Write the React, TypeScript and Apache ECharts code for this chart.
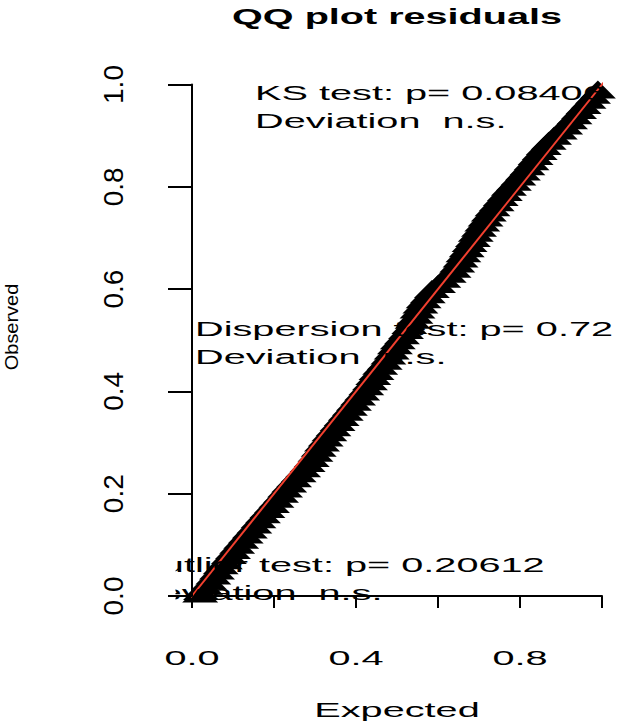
import React, { useEffect, useRef } from 'react';
import * as echarts from 'echarts';

// Expected (uniform quantiles) vs observed scaled residuals
const expected = [
  0.020, 0.022, 0.032, 0.042, 0.052, 0.061, 0.070, 0.080, 0.090, 0.100,
  0.110, 0.120, 0.131, 0.141, 0.152, 0.162, 0.173, 0.184, 0.195, 0.206,
  0.217, 0.227, 0.237, 0.249, 0.260, 0.271, 0.282, 0.292, 0.301, 0.309,
  0.317, 0.326, 0.335, 0.345, 0.355, 0.365, 0.375, 0.385, 0.395, 0.405,
  0.415, 0.425, 0.434, 0.442, 0.450, 0.459, 0.470, 0.479, 0.487, 0.495,
  0.502, 0.512, 0.522, 0.530, 0.538, 0.545, 0.550, 0.557, 0.565, 0.575,
  0.585, 0.600, 0.613, 0.626, 0.638, 0.647, 0.655, 0.662, 0.670, 0.677,
  0.685, 0.692, 0.700, 0.708, 0.716, 0.724, 0.733, 0.743, 0.753, 0.763,
  0.773, 0.785, 0.796, 0.807, 0.818, 0.828, 0.838, 0.848, 0.858, 0.870,
  0.883, 0.897, 0.910, 0.922, 0.933, 0.944, 0.955, 0.967, 0.978, 0.990,
];
const observed = [
  0.005, 0.01, 0.02, 0.03, 0.04, 0.05, 0.06, 0.07, 0.08, 0.09,
  0.10, 0.11, 0.12, 0.13, 0.14, 0.15, 0.16, 0.17, 0.18, 0.19,
  0.20, 0.21, 0.22, 0.23, 0.24, 0.25, 0.26, 0.27, 0.28, 0.29,
  0.30, 0.31, 0.32, 0.33, 0.34, 0.35, 0.36, 0.37, 0.38, 0.39,
  0.40, 0.41, 0.42, 0.43, 0.44, 0.45, 0.46, 0.47, 0.48, 0.49,
  0.50, 0.51, 0.52, 0.53, 0.54, 0.55, 0.56, 0.57, 0.58, 0.59,
  0.60, 0.61, 0.62, 0.63, 0.64, 0.65, 0.66, 0.67, 0.68, 0.69,
  0.70, 0.71, 0.72, 0.73, 0.74, 0.75, 0.76, 0.77, 0.78, 0.79,
  0.80, 0.81, 0.82, 0.83, 0.84, 0.85, 0.86, 0.87, 0.88, 0.89,
  0.90, 0.91, 0.92, 0.93, 0.94, 0.95, 0.96, 0.97, 0.98, 0.99,
];
const refLineEnds = [-0.04, 1.04];
const xTickLabelValues = [0, 0.4, 0.8];
const titleText = 'QQ plot residuals';
const xName = 'Expected';
const yName = 'Observed';
const ksLines = ['KS test: p= 0.08406', 'Deviation  n.s.'];
const dispLines = ['Dispersion test: p= 0.72', 'Deviation  n.s.'];
const outLines = ['Outlier test: p= 0.20612', 'Deviation  n.s.'];

const FONT = "'Liberation Sans', Arial, Helvetica, sans-serif";
const SX = 1.89;

function txt(text: string, x: number, y: number, opts: any = {}) {
  const align = opts.align || 'left';
  return {
    type: 'text',
    x,
    y,
    scaleX: opts.scaleX ?? SX,
    scaleY: opts.scaleY ?? 1,
    rotation: opts.rotation ?? 0,
    z: opts.z ?? 5,
    silent: true,
    style: {
      text,
      fill: '#000',
      fontFamily: FONT,
      fontSize: opts.fontSize ?? 21,
      fontWeight: opts.fontWeight ?? 'normal',
      align,
      verticalAlign: 'middle',
      textAlign: align,
      textVerticalAlign: 'middle',
    },
  };
}

export default function App() {
  const ref = useRef<HTMLDivElement>(null);
  useEffect(() => {
    const chart = echarts.init(ref.current!, null, { renderer: 'svg' });
    const axisLineStyle = { color: '#000', width: 2 };
    chart.setOption({
      animation: false,
      grid: { left: 192, top: 84.5, width: 410, height: 511.5 },
      xAxis: {
        type: 'value', min: 0, max: 1, interval: 0.2, offset: 21.5,
        axisLine: { show: true, lineStyle: axisLineStyle },
        axisTick: { show: true, length: 12, lineStyle: axisLineStyle },
        axisLabel: { show: false },
        splitLine: { show: false },
      },
      yAxis: {
        type: 'value', min: 0, max: 1, interval: 0.2, offset: 18, z: 10,
        axisLine: { show: true, lineStyle: axisLineStyle },
        axisTick: { show: true, length: 24, lineStyle: axisLineStyle },
        axisLabel: {
          rotate: 90, fontSize: 28, fontFamily: FONT, color: '#000', margin: 47,
          formatter: (v: number) => v.toFixed(1),
        },
        splitLine: { show: false },
      },
      series: [
        {
          type: 'scatter',
          data: expected.map((e, i) => [e, observed[i]]),
          symbol: 'triangle',
          symbolSize: [36, 18],
          itemStyle: { color: '#000', opacity: 1 },
          clip: false,
          z: 2,
        },
        {
          type: 'line',
          data: refLineEnds.map((v) => [v, v]),
          symbol: 'none',
          lineStyle: { color: '#f2402f', width: 2 },
          clip: false,
          z: 3,
        },
      ],
    });

    const px = (v: number) => chart.convertToPixel({ xAxisIndex: 0 }, v) as number;
    const lh = 27.5;
    const elements: any[] = [
      txt(titleText, (px(0) + px(1)) / 2, 16, { align: 'center', fontWeight: 'bold', fontSize: 22, scaleX: 1.8 }),
      ...xTickLabelValues.map((v) => txt(v.toFixed(1), px(v), 657.5, { align: 'center' })),
      txt(xName, (px(0) + px(1)) / 2, 710, { align: 'center' }),
      txt(yName, 11, 327, { align: 'center', fontSize: 19, scaleX: 1.05, rotation: Math.PI / 2 }),
      txt(ksLines[0], 255, 93),
      txt(ksLines[1], 255, 93 + lh),
      txt(dispLines[0], 195, 329),
      txt(dispLines[1], 195, 329 + lh),
      txt(outLines[0], 131, 565),
      txt(outLines[1], 131, 565 + lh),
      {
        type: 'rect', z: 6, silent: true,
        shape: { x: 118, y: 548, width: 57.5, height: 64 },
        style: { fill: '#fff' },
      },
    ];
    chart.setOption({ graphic: { elements } });
    return () => chart.dispose();
  }, []);
  return <div ref={ref} style={{ position: 'absolute', left: 0, top: 0, width: 618, height: 723 }} />;
}
